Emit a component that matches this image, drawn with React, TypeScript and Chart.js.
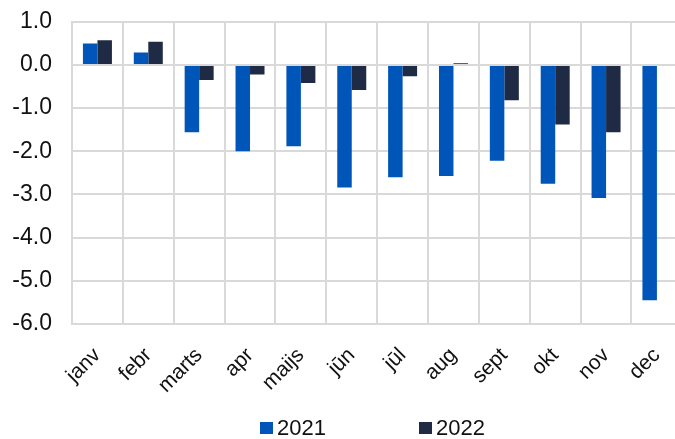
import React, { useEffect, useRef } from "react";
import { Chart, registerables } from "chart.js";

Chart.register(...registerables);

const categories = ["janv", "febr", "marts", "apr", "maijs", "jūn", "jūl", "aug", "sept", "okt", "nov", "dec"];
const values2021 = [0.5, 0.29, -1.56, -2.0, -1.88, -2.84, -2.6, -2.57, -2.22, -2.75, -3.08, -5.45];
const values2022 = [0.57, 0.54, -0.35, -0.22, -0.42, -0.58, -0.26, 0.04, -0.82, -1.38, -1.56, null];
const seriesLabels = ["2021", "2022"];
const seriesColors = ["#0055B8", "#1F2A44"];
const yTicks = { min: -6, max: 1, step: 1 };

const GRID = "#d9d9d9";
const FONT = "'Liberation Sans', Arial, sans-serif";
const SHIFT = 12;
const CANVAS_W = 694;

const legendPlugin = {
  id: "customLegend",
  afterDraw(chart: any) {
    const ctx = chart.ctx;
    ctx.save();
    ctx.font = `22px ${FONT}`;
    ctx.textBaseline = "middle";
    ctx.textAlign = "left";
    const y = 429 + SHIFT;
    let x = 260;
    chart.data.datasets.forEach((ds: any) => {
      ctx.fillStyle = ds.backgroundColor;
      ctx.fillRect(x, y - 7, 13, 12);
      ctx.fillStyle = "#111";
      ctx.fillText(ds.label, x + 17, y);
      x += 159;
    });
    ctx.restore();
  },
};

export default function App() {
  const ref = useRef<HTMLCanvasElement | null>(null);
  useEffect(() => {
    if (!ref.current) return;
    const chart = new Chart(ref.current, {
      type: "bar",
      data: {
        labels: categories,
        datasets: [
          { label: seriesLabels[0], data: values2021, backgroundColor: seriesColors[0] },
          { label: seriesLabels[1], data: values2022 as any, backgroundColor: seriesColors[1] },
        ],
      },
      options: {
        animation: false,
        responsive: false,
        devicePixelRatio: 1,
        layout: { padding: { top: 6, right: 6, bottom: 45, left: 0 } },
        datasets: { bar: { categoryPercentage: 0.57, barPercentage: 1.0 } },
        plugins: { legend: { display: false }, tooltip: { enabled: false } },
        scales: {
          x: {
            grid: { color: GRID, lineWidth: 2, drawTicks: false, offset: true },
            border: { color: GRID, width: 2 },
            ticks: {
              font: { family: FONT, size: 21 },
              color: "#111",
              maxRotation: 45,
              minRotation: 45,
              autoSkip: false,
              padding: 19,
            },
            afterFit: (s: any) => {
              s.height = 70;
            },
          },
          y: {
            min: yTicks.min,
            max: yTicks.max,
            grid: { color: GRID, lineWidth: 2, drawTicks: false },
            border: { color: GRID, width: 2 },
            ticks: {
              stepSize: yTicks.step,
              font: { family: FONT, size: 23 },
              color: "#111",
              padding: 20,
              callback: (v: any) => Number(v).toFixed(1),
            },
            afterFit: (s: any) => {
              s.width = 72;
            },
          },
        },
      },
      plugins: [legendPlugin],
    });
    return () => chart.destroy();
  }, []);
  return (
    <div style={{ position: "fixed", left: 0, top: 0, width: 675, height: 439, overflow: "hidden", background: "#fff" }}>
      <canvas
        ref={ref}
        width={CANVAS_W}
        height={439 + SHIFT}
        style={{ display: "block", position: "absolute", left: 0, top: -SHIFT, width: CANVAS_W, height: 439 + SHIFT }}
      />
    </div>
  );
}
